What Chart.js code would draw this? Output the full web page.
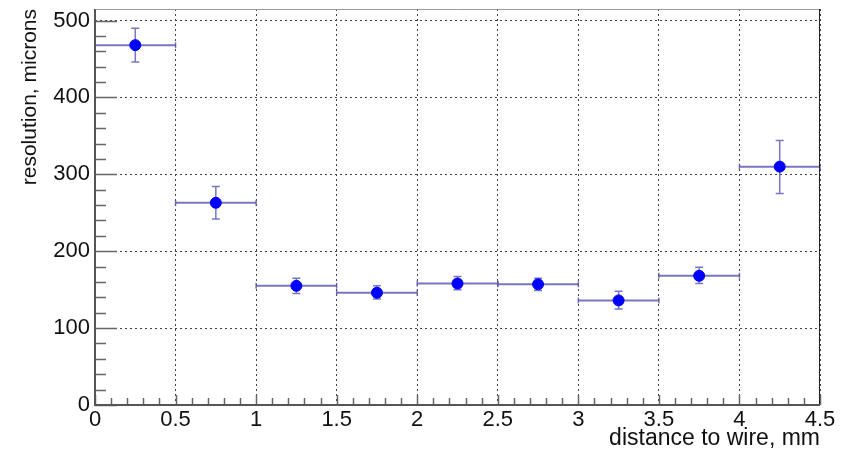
<!DOCTYPE html>
<html>
<head>
<meta charset="utf-8">
<script src="https://cdn.jsdelivr.net/npm/chart.js@4"></script>
<style>
  body { margin: 0; background: #fff; }
  #wrap { width: 841px; height: 452px; }
</style>
</head>
<body>
<div id="wrap"><canvas id="resChart"></canvas></div>
<script>
// bins of distance to wire (mm)
const binCenters = [0.25, 0.75, 1.25, 1.75, 2.25, 2.75, 3.25, 3.75, 4.25];
const binHalfWidth = [0.25, 0.25, 0.25, 0.25, 0.25, 0.25, 0.25, 0.25, 0.25];
// resolution, microns
const resolution = [468, 263, 155, 146, 158, 157, 136, 168, 310];
const errUp = [22, 21, 10, 9, 9, 8, 12, 11, 34];
const errDown = [22, 21, 10, 8, 8, 8, 11, 10, 35];
const xTicks = [0, 0.5, 1, 1.5, 2, 2.5, 3, 3.5, 4, 4.5];
const yTicks = [0, 100, 200, 300, 400, 500];

const FONT = "'Liberation Sans', Arial, sans-serif";

// error bars, drawn under the markers
const errorBars = {
  id: 'errorBars',
  beforeDatasetsDraw(chart) {
    const ctx = chart.ctx;
    const xs = chart.scales.x, ys = chart.scales.y;
    ctx.save();
    ctx.strokeStyle = 'rgba(85,85,175,0.8)';
    for (let i = 0; i < binCenters.length; i++) {
      const x0 = xs.getPixelForValue(binCenters[i] - binHalfWidth[i]);
      const x1 = xs.getPixelForValue(binCenters[i] + binHalfWidth[i]);
      const xc = xs.getPixelForValue(binCenters[i]);
      const y = ys.getPixelForValue(resolution[i]);
      const yt = ys.getPixelForValue(resolution[i] + errUp[i]);
      const yb = ys.getPixelForValue(resolution[i] - errDown[i]);
      ctx.lineWidth = 2;
      ctx.beginPath();
      ctx.moveTo(x0, y); ctx.lineTo(x1, y);
      ctx.stroke();
      ctx.lineWidth = 1.5;
      ctx.beginPath();
      ctx.moveTo(x0, y - 3); ctx.lineTo(x0, y + 3);
      ctx.moveTo(x1, y - 3); ctx.lineTo(x1, y + 3);
      ctx.moveTo(xc, yt); ctx.lineTo(xc, yb);
      ctx.moveTo(xc - 4, yt); ctx.lineTo(xc + 4, yt);
      ctx.moveTo(xc - 4, yb); ctx.lineTo(xc + 4, yb);
      ctx.stroke();
    }
    ctx.restore();
  }
};

// ROOT style frame with inner ticks
const frame = {
  id: 'frame',
  afterDraw(chart) {
    const ctx = chart.ctx;
    const a = chart.chartArea;
    const xs = chart.scales.x, ys = chart.scales.y;
    ctx.save();
    ctx.strokeStyle = '#666';
    ctx.lineWidth = 1.5;
    ctx.beginPath();
    for (let v = 0; v <= 510; v += 20) {
      const y = Math.round(ys.getPixelForValue(v)) + 0.5;
      const len = v % 100 === 0 ? 22 : 11;
      ctx.moveTo(a.left, y); ctx.lineTo(a.left + len, y);
    }
    for (let k = 0; k <= 45; k++) {
      const x = Math.round(xs.getPixelForValue(k / 10)) + 0.5;
      const len = k % 5 === 0 ? 10 : 7;
      ctx.moveTo(x, a.bottom); ctx.lineTo(x, a.bottom - len);
    }
    ctx.stroke();
    ctx.lineWidth = 1;
    ctx.strokeStyle = '#999';
    ctx.beginPath();
    ctx.moveTo(a.left, a.top + 0.5); ctx.lineTo(a.right, a.top + 0.5);
    ctx.stroke();
    ctx.strokeStyle = '#222';
    ctx.beginPath();
    ctx.moveTo(a.right - 0.5, a.top); ctx.lineTo(a.right - 0.5, a.bottom);
    ctx.stroke();
    ctx.strokeStyle = '#555';
    ctx.lineWidth = 2;
    ctx.beginPath();
    ctx.moveTo(a.left, a.top); ctx.lineTo(a.left, a.bottom);
    ctx.lineTo(a.right, a.bottom);
    ctx.stroke();
    ctx.restore();
  }
};

const points = binCenters.map((x, i) => ({ x: x, y: resolution[i] }));

new Chart(document.getElementById('resChart'), {
  type: 'scatter',
  data: {
    datasets: [{
      label: 'resolution',
      data: points,
      backgroundColor: '#0000ff',
      borderColor: '#0000ff',
      pointRadius: 5.5,
      pointHoverRadius: 5.5
    }]
  },
  options: {
    responsive: true,
    maintainAspectRatio: false,
    animation: false,
    layout: { padding: { top: 9, right: 21, left: 0, bottom: 0 } },
    plugins: { legend: { display: false }, tooltip: { enabled: false } },
    scales: {
      x: {
        type: 'linear',
        min: 0,
        max: 4.5,
        afterFit(scale) {
          scale.height = 47;
          scale.paddingLeft = 0;
          scale.paddingRight = 0;
        },
        afterBuildTicks(scale) { scale.ticks = xTicks.map(v => ({ value: v })); },
        ticks: {
          padding: 2,
          color: '#111',
          font: { family: FONT, size: 22 },
          maxRotation: 0,
          callback: v => String(+v.toFixed(2))
        },
        grid: { color: '#444', lineWidth: 1, drawTicks: false },
        border: { display: false, dash: [2, 3] },
        title: {
          display: true,
          text: 'distance to wire, mm',
          align: 'end',
          color: '#111',
          font: { family: FONT, size: 23 },
          padding: { top: 0, bottom: 0 }
        }
      },
      y: {
        min: 0,
        max: 515,
        afterFit(scale) {
          scale.width = 95;
          scale.paddingTop = 0;
          scale.paddingBottom = 0;
        },
        afterBuildTicks(scale) { scale.ticks = yTicks.map(v => ({ value: v })); },
        ticks: {
          padding: 5,
          color: '#111',
          font: { family: FONT, size: 22 }
        },
        grid: { color: '#444', lineWidth: 1, drawTicks: false },
        border: { display: false, dash: [2, 3] },
        title: {
          display: true,
          text: 'resolution, microns',
          align: 'end',
          color: '#111',
          font: { family: FONT, size: 21 },
          padding: { top: 18, bottom: 0 }
        }
      }
    }
  },
  plugins: [errorBars, frame]
});
</script>
</body>
</html>
